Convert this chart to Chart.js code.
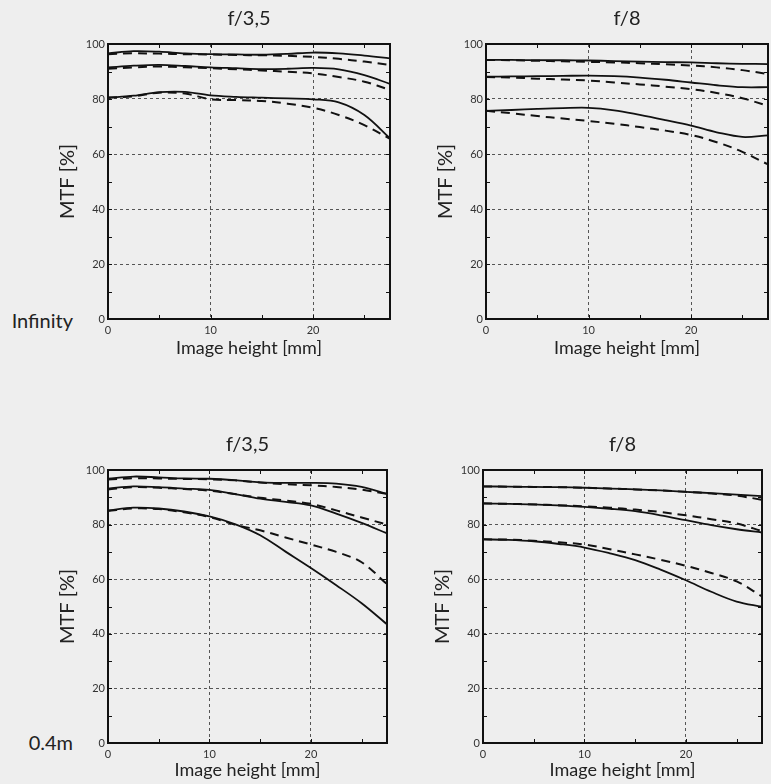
<!DOCTYPE html>
<html>
<head>
<meta charset="utf-8">
<script src="https://cdn.jsdelivr.net/npm/chart.js@4.4.1/dist/chart.umd.min.js"></script>
<style>
  html, body { margin: 0; padding: 0; background: #eeeeee; width: 771px; height: 784px; overflow: hidden; }
  canvas { position: absolute; }
  .rowLabel { position: absolute; left: 0; width: 73px; text-align: right; font-family: Lato, sans-serif; font-size: 20px; line-height: 24px; color: #222; }
</style>
</head>
<body>
<div class="rowLabel" id="rowInf" style="top:308px"></div>
<div class="rowLabel" id="rowNear" style="top:730px"></div>
<canvas id="c1" width="400" height="370" style="left:0;top:0"></canvas>
<canvas id="c2" width="393" height="370" style="left:378px;top:0"></canvas>
<canvas id="c3" width="400" height="358" style="left:0;top:426px"></canvas>
<canvas id="c4" width="396" height="358" style="left:375px;top:426px"></canvas>
<script>
// image height (mm) where values were read
const imageHeight = [0, 2.5, 5, 7.5, 10, 12.5, 15, 17.5, 20, 22.5, 25, 27.5];
const apertures = ['f/3,5', 'f/8'];
const distances = ['Infinity', '0.4m'];

// Infinity, f/3,5
const inf35SolidTop = [96.6, 97.4, 97.2, 96.6, 96.3, 96.2, 96.1, 96.4, 96.9, 96.6, 95.8, 94.8];
const inf35DashTop  = [96.3, 96.6, 96.5, 96.3, 96.2, 96.0, 95.9, 95.7, 95.3, 94.6, 93.6, 92.4];
const inf35SolidMid = [91.5, 92.1, 92.4, 92.0, 91.5, 91.2, 90.9, 91.0, 91.3, 90.8, 88.7, 85.5];
const inf35DashMid  = [91.0, 91.5, 91.8, 91.5, 91.2, 90.8, 90.4, 89.9, 89.3, 88.0, 86.3, 83.3];
const inf35SolidLow = [80.5, 81.2, 82.5, 82.6, 81.3, 80.8, 80.5, 80.2, 79.9, 78.8, 74.2, 65.7];
const inf35DashLow  = [80.5, 81.0, 82.3, 82.0, 79.9, 79.6, 79.3, 78.3, 76.8, 74.2, 70.5, 65.5];

// Infinity, f/8
const inf8SolidTop = [94.2, 94.2, 94.1, 94.1, 94.0, 93.8, 93.6, 93.4, 93.3, 93.0, 92.8, 92.7];
const inf8DashTop  = [94.2, 94.1, 93.9, 93.7, 93.5, 93.3, 93.0, 92.6, 92.2, 91.5, 90.5, 89.1];
const inf8SolidMid = [88.1, 88.2, 88.3, 88.4, 88.5, 88.3, 87.8, 87.0, 86.0, 85.0, 84.3, 84.3];
const inf8DashMid  = [88.0, 87.8, 87.4, 87.1, 86.7, 86.0, 85.3, 84.5, 83.6, 82.2, 80.3, 77.5];
const inf8SolidLow = [75.7, 76.0, 76.4, 76.7, 76.8, 75.9, 74.2, 72.3, 70.3, 67.9, 66.2, 66.8];
const inf8DashLow  = [75.7, 74.8, 73.8, 72.9, 72.0, 71.0, 69.8, 68.5, 66.9, 64.3, 60.8, 56.2];

// 0.4m, f/3,5
const near35SolidTop = [96.8, 97.6, 97.3, 96.9, 96.8, 96.3, 95.5, 95.3, 95.3, 95.0, 93.8, 91.3];
const near35DashTop  = [96.5, 97.0, 96.9, 96.7, 96.6, 96.2, 95.4, 94.8, 94.4, 93.8, 92.8, 91.2];
const near35SolidMid = [93.2, 94.0, 93.7, 93.2, 92.7, 91.2, 89.5, 88.3, 87.0, 84.0, 80.6, 76.8];
const near35DashMid  = [92.9, 93.7, 93.5, 93.0, 92.4, 91.2, 89.8, 88.8, 87.6, 85.2, 82.6, 80.0];
const near35SolidLow = [85.2, 86.2, 85.9, 84.8, 83.0, 80.2, 76.1, 70.1, 64.1, 57.8, 51.2, 43.5];
const near35DashLow  = [85.0, 85.9, 85.7, 84.5, 82.8, 80.0, 77.9, 75.3, 72.7, 70.0, 66.2, 58.2];

// 0.4m, f/8
const near8SolidTop = [94.0, 93.9, 93.8, 93.7, 93.5, 93.2, 92.9, 92.5, 92.0, 91.5, 91.0, 90.4];
const near8DashTop  = [94.0, 93.9, 93.8, 93.7, 93.5, 93.2, 92.9, 92.5, 92.0, 91.4, 90.6, 89.1];
const near8SolidMid = [87.7, 87.6, 87.4, 87.0, 86.5, 85.8, 84.9, 83.4, 81.6, 79.8, 78.3, 77.1];
const near8DashMid  = [87.8, 87.6, 87.4, 87.1, 86.7, 86.2, 85.5, 84.6, 83.4, 82.0, 80.4, 77.6];
const near8SolidLow = [74.6, 74.4, 73.9, 72.9, 71.6, 69.5, 67.0, 63.5, 59.6, 55.4, 51.8, 49.9];
const near8DashLow  = [74.6, 74.5, 74.1, 73.5, 72.7, 71.0, 69.1, 67.1, 64.9, 62.3, 59.2, 53.7];

const xTickValues = [0, 10, 20];
const yTickValues = [0, 20, 40, 60, 80, 100];

const FONT = 'Lato, "Noto Sans", sans-serif';

document.getElementById('rowInf').textContent = distances[0];
document.getElementById('rowNear').textContent = distances[1];

// frame, inward minor ticks and the title above the plot
const framePlugin = {
    id: 'frame',
    afterDraw(chart, args, opts) {
        const { ctx, chartArea: a, scales: { x, y } } = chart;
        ctx.save();
        ctx.strokeStyle = '#111';
        ctx.lineWidth = 1;
        ctx.beginPath();
        for (let v = 5; v < x.max; v += 5) {
            const px = Math.round(x.getPixelForValue(v)) + 0.5;
            ctx.moveTo(px, a.bottom); ctx.lineTo(px, a.bottom - 4);
            ctx.moveTo(px, a.top); ctx.lineTo(px, a.top + 4);
        }
        for (let v = 10; v < y.max; v += 10) {
            const py = Math.round(y.getPixelForValue(v)) + 0.5;
            ctx.moveTo(a.left, py); ctx.lineTo(a.left + 4, py);
            ctx.moveTo(a.right, py); ctx.lineTo(a.right - 4, py);
        }
        ctx.stroke();
        ctx.lineWidth = 2;
        ctx.strokeRect(a.left, a.top, a.right - a.left, a.bottom - a.top);
        ctx.fillStyle = '#222';
        ctx.font = '20px ' + FONT;
        ctx.textAlign = 'center';
        ctx.textBaseline = 'middle';
        ctx.fillText(opts.text, (a.left + a.right) / 2, a.top - 25);
        ctx.restore();
    }
};

function series(arr, dashed) {
    return {
        data: imageHeight.map((h, i) => ({ x: h, y: arr[i] })),
        borderColor: '#111',
        borderWidth: dashed ? 2 : 1.8,
        borderDash: dashed ? [9, 6] : [],
        pointRadius: 0,
        fill: false,
        tension: 0.35
    };
}

function makeChart(id, title, lines, padRight, xAxisHeight, xTitlePad) {
    const gridColor = (c) => (c.tick && (c.tick.value === 0 || c.tick.value === 100)) ? 'rgba(0,0,0,0)' : '#555';
    return new Chart(document.getElementById(id), {
        type: 'line',
        data: {
            datasets: lines.map((arr, i) => series(arr, i % 2 === 1))
        },
        plugins: [framePlugin],
        options: {
            responsive: false,
            animation: false,
            devicePixelRatio: 1,
            layout: { padding: { top: 44, right: padRight, left: 0, bottom: 0 } },
            plugins: {
                legend: { display: false },
                tooltip: { enabled: false },
                frame: { text: title }
            },
            scales: {
                x: {
                    type: 'linear',
                    min: 0,
                    max: 27.5,
                    afterBuildTicks: (s) => { s.ticks = xTickValues.map(v => ({ value: v })); },
                    ticks: { padding: 5, maxRotation: 0, color: '#333', font: { family: FONT, size: 11 } },
                    grid: { drawTicks: false, color: gridColor, lineWidth: 1 },
                    border: { display: false, dash: [3, 3] },
                    title: { display: true, text: 'Image height [mm]', color: '#222', font: { family: FONT, size: 18 }, padding: { top: 0, bottom: xTitlePad } },
                    afterFit: (s) => { s.height = xAxisHeight; }
                },
                y: {
                    min: 0,
                    max: 100,
                    afterBuildTicks: (s) => { s.ticks = yTickValues.map(v => ({ value: v })); },
                    ticks: { padding: 3, color: '#333', font: { family: FONT, size: 11 } },
                    grid: { drawTicks: false, color: gridColor, lineWidth: 1 },
                    border: { display: false, dash: [3, 3] },
                    title: { display: true, text: 'MTF [%]', color: '#222', font: { family: FONT, size: 20 }, padding: { top: 56, bottom: 0 } },
                    afterFit: (s) => { s.width = 108; }
                }
            }
        }
    });
}

makeChart('c1', apertures[0], [inf35SolidTop, inf35DashTop, inf35SolidMid, inf35DashMid, inf35SolidLow, inf35DashLow], 10, 51, 11);
makeChart('c2', apertures[1], [inf8SolidTop, inf8DashTop, inf8SolidMid, inf8DashMid, inf8SolidLow, inf8DashLow], 3, 51, 11);
makeChart('c3', apertures[0], [near35SolidTop, near35DashTop, near35SolidMid, near35DashMid, near35SolidLow, near35DashLow], 13, 41, 3);
makeChart('c4', apertures[1], [near8SolidTop, near8DashTop, near8SolidMid, near8DashMid, near8SolidLow, near8DashLow], 9, 41, 3);
</script>
</body>
</html>
